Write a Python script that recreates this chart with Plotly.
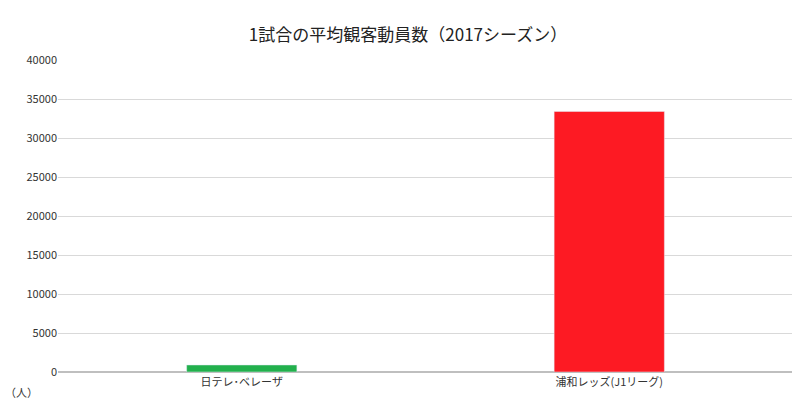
import plotly.graph_objects as go

teams = ["日テレ･ベレーザ", "浦和レッズ(J1リーグ)"]
attendance = [900, 33400]
colors = ["#22b04c", "#fd1a23"]

fig = go.Figure(go.Bar(x=teams, y=attendance, marker_color=colors, width=0.3))

fig.update_layout(
    width=800, height=412,
    paper_bgcolor="white", plot_bgcolor="white",
    margin=dict(l=50, r=15, t=52, b=48),
    font=dict(family="Noto Sans CJK JP", size=11, color="#333"),
    title=dict(text="1試合の平均観客動員数（2017シーズン）", x=0.5, y=0.95,
               xanchor="center", font=dict(size=17, color="#222")),
    showlegend=False,
)
fig.update_yaxes(range=[0, 40000], dtick=5000, tickformat="d", gridcolor="#d9d9d9",
                 showline=False, zeroline=True, zerolinecolor="#bfbfbf",
                 ticks="", tickfont=dict(size=11), automargin=False)
fig.update_xaxes(showline=True, linecolor="#bfbfbf", ticks="", tickfont=dict(size=11),
                 automargin=False)
fig.add_annotation(text="（人）", xref="paper", yref="paper", x=-0.075, y=-0.065,
                   showarrow=False, xanchor="left", yanchor="middle", font=dict(size=11))

fig.write_html("out.html")
